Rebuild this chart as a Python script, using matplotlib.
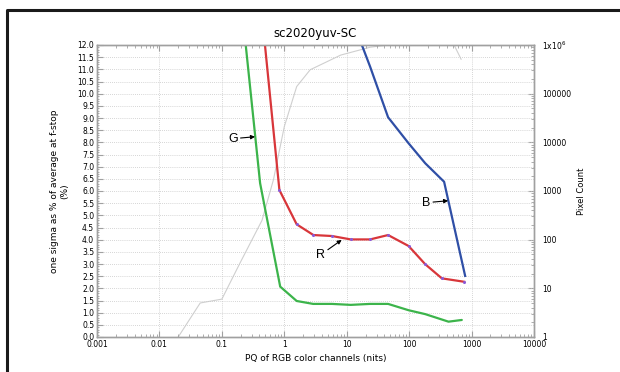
import matplotlib
matplotlib.use('agg')
import matplotlib.pyplot as plt
from matplotlib.lines import Line2D
from matplotlib.ticker import FixedLocator, NullFormatter, LogLocator

# noise curves per channel (nits vs. sigma %)
green_x = [0.20, 0.41, 0.86, 1.58, 2.9, 5.8, 11.6, 23.7, 46, 98, 181, 427, 697]
green_y = [14.0, 6.32, 2.07, 1.48, 1.36, 1.36, 1.32, 1.36, 1.36, 1.10, 0.94, 0.63, 0.70]

red_x = [0.41, 0.835, 1.58, 2.93, 5.8, 11.6, 23.7, 46, 98, 181, 334, 760]
red_y = [14.0, 6.04, 4.63, 4.19, 4.15, 4.01, 4.01, 4.19, 3.74, 2.99, 2.41, 2.27]

blue_x = [11.6, 23.7, 46, 98, 181, 363, 789]
blue_y = [13.2, 11.11, 9.03, 7.96, 7.14, 6.38, 2.51]

# histogram of pixels (right axis)
count_x = [0.02, 0.045, 0.1, 0.195, 0.44, 0.67, 1.0, 1.58, 2.6, 8, 23.7, 46, 100, 200, 525, 680]
count_y = [1, 5, 6, 33, 250, 1700, 21000, 140000, 310000, 620000, 900000, 1.0e6, 1.05e6, 1.1e6, 1.0e6, 5.1e5]

x_ticks = [0.001, 0.01, 0.1, 1, 10, 100, 1000, 10000]
x_tick_labels = ['0.001', '0.01', '0.1', '1', '10', '100', '1000', '10000']
count_ticks = [1, 10, 100, 1000, 10000, 100000, 1000000]
count_tick_labels = ['1', '10', '100', '1000', '10000', '100000', '1x10$^6$']

SPINE = '#a0a0a0'
GRID = '#c8c8c8'

fig = plt.figure(figsize=(6.2, 3.72), dpi=100)
ax = fig.add_axes([97 / 620, 35 / 372, 437 / 620, 292 / 372])
ax2 = ax.twinx()

# grey pixel count curve sits behind everything
ax2.plot(count_x, count_y, color='#cfcfcf', lw=0.8)
ax2.set_yscale('log')
ax2.set_ylim(1, 1e6)
ax2.set_yticks(count_ticks)
ax2.set_yticklabels(count_tick_labels, fontsize=5.5)
ax2.yaxis.set_minor_locator(LogLocator(base=10, subs=range(2, 10)))
ax2.yaxis.set_minor_formatter(NullFormatter())
ax2.tick_params(axis='y', which='major', direction='in', length=4, color=SPINE, pad=6)
ax2.tick_params(axis='y', which='minor', direction='in', length=2, color=SPINE)
ax2.set_ylabel('Pixel Count', fontsize=6, labelpad=4)

ax.set_zorder(ax2.get_zorder() + 1)
ax.patch.set_visible(False)

ax.plot(green_x, green_y, color='#3cb44b', lw=1.6, solid_capstyle='round')
ax.plot(red_x, red_y, color='#d8363a', lw=1.6, marker='o', markersize=1.2,
        markerfacecolor='#8a5ad8', markeredgecolor='#8a5ad8')
ax.plot(blue_x, blue_y, color='#2f4fa6', lw=1.6)

ax.set_xscale('log')
ax.set_xlim(0.001, 10000)
ax.set_ylim(0, 12)
ax.set_xticks(x_ticks)
ax.set_xticklabels(x_tick_labels, fontsize=5.5)
ax.xaxis.set_minor_locator(LogLocator(base=10, subs=range(2, 10)))
ax.xaxis.set_minor_formatter(NullFormatter())
y_ticks = [i * 0.5 for i in range(25)]
ax.set_yticks(y_ticks)
ax.set_yticklabels(['%.1f' % v for v in y_ticks], fontsize=5.5)
ax.yaxis.set_minor_locator(FixedLocator([i * 0.1 for i in range(121)]))
ax.tick_params(axis='both', which='major', direction='in', length=4, color=SPINE,
               top=True, pad=2)
ax.tick_params(axis='both', which='minor', direction='in', length=2, color=SPINE,
               top=True)
ax.tick_params(axis='y', which='minor', length=1.2)

ax.grid(True, which='major', color=GRID, linestyle=(0, (1, 1.5)), lw=0.6)

for a in (ax, ax2):
    for s in a.spines.values():
        s.set_color(SPINE)
        s.set_linewidth(1.0)

ax.set_title('sc2020yuv-SC', fontsize=8.5, pad=6)
ax.set_xlabel('PQ of RGB color channels (nits)', fontsize=6.5, labelpad=4)
ax.set_ylabel('one sigma as % of average at f-stop\n(%)', fontsize=6.5, labelpad=6)

# channel callouts
arrow = dict(arrowstyle='-|>', color='black', lw=0.8, mutation_scale=6,
             shrinkA=0, shrinkB=0)
ax.annotate('G', xy=(0.34, 8.23), xytext=(0.18, 8.15), arrowprops=arrow,
            fontsize=9, ha='right', va='center', family='Liberation Sans')
ax.annotate('R', xy=(8.3, 3.99), xytext=(4.5, 3.62), arrowprops=arrow,
            fontsize=9, ha='right', va='top', family='Liberation Sans')
ax.annotate('B', xy=(422, 5.6), xytext=(218, 5.52), arrowprops=arrow,
            fontsize=9, ha='right', va='center', family='Liberation Sans')

# black frame along top and left like the screenshot
fig.add_artist(Line2D([7 / 620, 7 / 620, 1.0], [0.0, 1 - 10 / 372, 1 - 10 / 372],
                      color='#1a1a1a', lw=2.2, transform=fig.transFigure))

fig.savefig('out.png', dpi=100)
